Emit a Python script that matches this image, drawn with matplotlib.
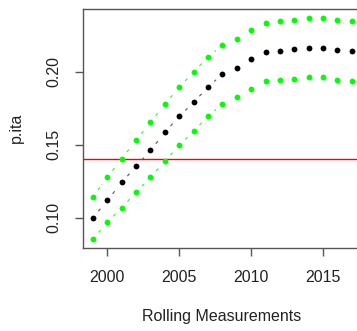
import matplotlib
matplotlib.use("Agg")
import matplotlib.pyplot as plt
import numpy as np

years = list(range(1999, 2018))
mid = [0.1000, 0.1119, 0.1242, 0.1352, 0.1462, 0.1585, 0.1695, 0.1790, 0.1895, 0.1984,
       0.2025, 0.2087, 0.2135, 0.2142, 0.2156, 0.2162, 0.2162, 0.2149, 0.2142]
upper = [0.1144, 0.1277, 0.1404, 0.1530, 0.1653, 0.1777, 0.1895, 0.1998, 0.2101, 0.2183,
         0.2224, 0.2286, 0.2336, 0.2347, 0.2356, 0.2370, 0.2370, 0.2356, 0.2347]
lower = [0.0856, 0.0968, 0.1069, 0.1174, 0.1277, 0.1386, 0.1496, 0.1592, 0.1695, 0.1779,
         0.1825, 0.1884, 0.1936, 0.1943, 0.1950, 0.1964, 0.1964, 0.1943, 0.1936]
hline_value = 0.14
xticks = [2000, 2005, 2010, 2015]
yticks = [0.10, 0.15, 0.20]
ytick_labels = ["0.10", "0.15", "0.20"]

W, H = 357, 331
DPI = 100
plt.rcParams['font.family'] = ['Liberation Sans', 'DejaVu Sans']
fig = plt.figure(figsize=(W / DPI, H / DPI), dpi=DPI)
fig.patch.set_facecolor('white')

left_px, right_px, top_px, bottom_px = 82.7, 361.3, 8.7, 247.7
ax = fig.add_axes([left_px / W, 1 - bottom_px / H, (right_px - left_px) / W, (bottom_px - top_px) / H])
ax.set_xlim(1998.29, 2017.66)
ax.set_ylim(0.0795, 0.2432)

spine_col = '#555555'
for s in ax.spines.values():
    s.set_color(spine_col)
    s.set_linewidth(1.0)

ax.axhline(hline_value, color='#ff0000', lw=1.0, zorder=1)

def typeb(xs, ys, color, gap_px=8.5):
    fig.canvas.draw()
    pts = ax.transData.transform(np.column_stack([xs, ys]))
    inv = ax.transData.inverted()
    for i in range(len(pts) - 1):
        p0, p1 = pts[i], pts[i + 1]
        d = p1 - p0
        L = np.hypot(*d)
        if L <= 2 * gap_px:
            continue
        u = d / L
        a = inv.transform(p0 + u * gap_px)
        b = inv.transform(p1 - u * gap_px)
        ax.plot([a[0], b[0]], [a[1], b[1]], color=color, lw=0.8,
                linestyle=(0, (2.9, 2.9)), zorder=2)

typeb(years, upper, '#33ee33')
typeb(years, lower, '#33ee33')
typeb(years, mid, '#555555')

ax.plot(years, upper, 'o', color='#00ff00', ms=4.2, mec='none', zorder=3)
ax.plot(years, lower, 'o', color='#00ff00', ms=4.2, mec='none', zorder=3)
ax.plot(years, mid, 'o', color='black', ms=4.2, mec='none', zorder=3)

ax.set_xticks(xticks)
ax.set_xticklabels([str(t) for t in xticks])
ax.set_yticks(yticks)
ax.set_yticklabels(ytick_labels, rotation=90, va='center')
ax.tick_params(axis='both', direction='out', length=6, width=1.0, color=spine_col,
               labelsize=11.5, labelcolor='#222222')
ax.tick_params(axis='x', pad=10)
ax.tick_params(axis='y', pad=9.5)

ax.set_xlabel('Rolling Measurements', fontsize=11.5, color='#222222')
ax.set_ylabel('p.ita', fontsize=11.5, color='#222222')
ax.xaxis.set_label_coords(0.5, -0.255)
ax.yaxis.set_label_coords(-0.2107, 0.5)

fig.savefig('out.png', dpi=DPI, facecolor='white')
